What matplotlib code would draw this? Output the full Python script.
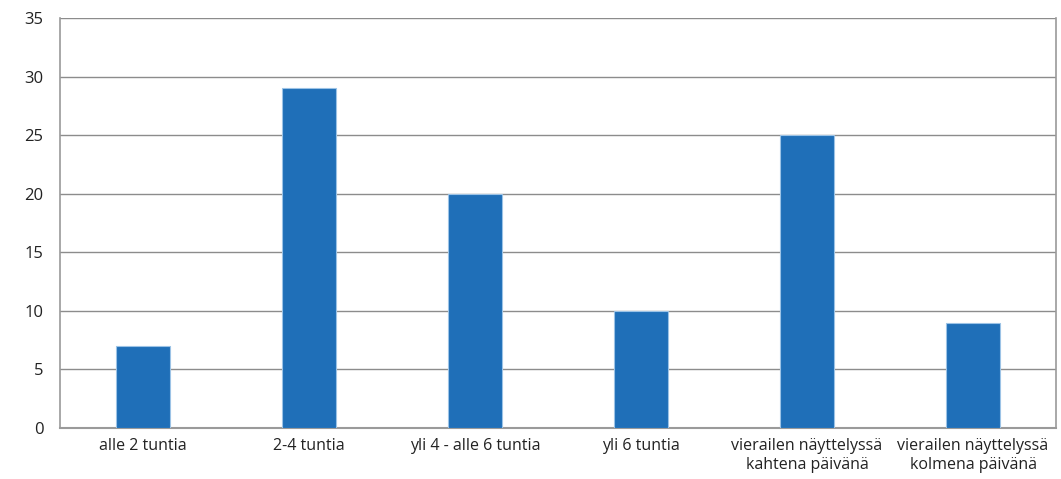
import matplotlib
matplotlib.use("Agg")
import matplotlib.pyplot as plt
import numpy as np

plt.rcParams['font.family'] = ['Open Sans', 'DejaVu Sans']

categories = ["alle 2 tuntia", "2-4 tuntia", "yli 4 - alle 6 tuntia", "yli 6 tuntia",
              "vierailen näyttelyssä\nkahtena päivänä", "vierailen näyttelyssä\nkolmena päivänä"]
values = [7, 29, 20, 10, 25, 9]
yticks = [0, 5, 10, 15, 20, 25, 30, 35]

fig = plt.figure(figsize=(10.61, 4.79), dpi=100)
ax = fig.add_axes([60/1061, 1 - 428/479, 996/1061, 410/479])

x = np.arange(len(categories))
ax.bar(x, values, width=0.32, color='#1f6fb8', edgecolor='#9cc3e6', linewidth=0.8, zorder=3)

ax.set_xlim(-0.5, len(categories) - 0.5)
ax.set_ylim(0, 35)
ax.set_yticks(yticks)
ax.set_xticks(x)
ax.set_xticklabels(categories, fontsize=11.5, color='#222222', linespacing=1.3)
ax.tick_params(axis='y', labelsize=12, colors='#222222', length=0, pad=12)
ax.tick_params(axis='x', length=0, pad=7)
ax.grid(axis='y', color='#8c8c8c', linewidth=1.0, zorder=0)
for s in ['left', 'right', 'bottom', 'top']:
    ax.spines[s].set_color('#9a9a9a')
    ax.spines[s].set_linewidth(1.2)
ax.spines['top'].set_visible(False)
ax.spines['bottom'].set_linewidth(1.5)

fig.savefig("out.png", dpi=100)
